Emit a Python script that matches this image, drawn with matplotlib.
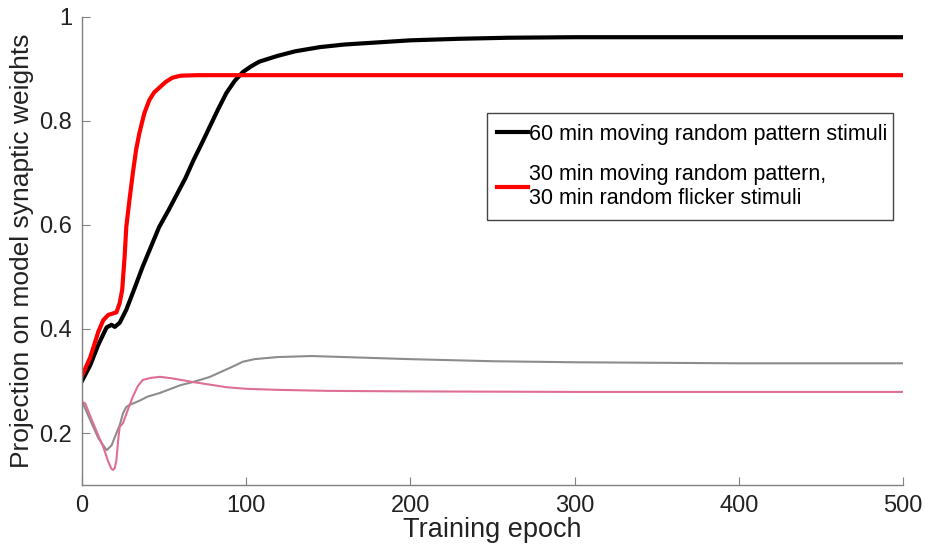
import matplotlib
matplotlib.use("Agg")
import matplotlib.pyplot as plt
from matplotlib.lines import Line2D

plt.rcParams['font.family'] = ['Liberation Sans', 'DejaVu Sans']

# 60 min moving random pattern (thick black)
x_black = [0, 5, 10, 15, 18, 20, 23, 27, 32, 37, 42, 47, 53, 58, 63, 68, 73, 78, 83, 88, 93, 98, 103, 108, 114, 119, 130, 145, 160, 180, 200, 230, 260, 300, 350, 400, 450, 500]
y_black = [0.300, 0.33, 0.37, 0.403, 0.408, 0.404, 0.412, 0.437, 0.478, 0.52, 0.558, 0.596, 0.63, 0.66, 0.69, 0.725, 0.757, 0.79, 0.823, 0.854, 0.877, 0.894, 0.905, 0.914, 0.92, 0.925, 0.934, 0.942, 0.947, 0.951, 0.955, 0.958, 0.96, 0.961, 0.961, 0.961, 0.961, 0.961]

# 30 min moving + 30 min flicker (thick red)
x_red = [0, 5, 10, 13, 16, 19, 21, 23, 24.5, 26, 27, 29, 31, 33, 35, 38, 41, 44, 47.5, 51, 55, 60, 70, 100, 200, 300, 400, 500]
y_red = [0.31, 0.345, 0.395, 0.417, 0.427, 0.43, 0.432, 0.45, 0.475, 0.54, 0.596, 0.65, 0.70, 0.745, 0.777, 0.815, 0.84, 0.855, 0.865, 0.875, 0.883, 0.887, 0.888, 0.888, 0.888, 0.888, 0.888, 0.888]

# thin grey curve
x_grey = [0, 1, 5, 10, 15, 18, 21, 23, 25, 27, 29, 35, 40, 47.5, 55, 60, 67.6, 72, 78, 85, 92, 98, 105, 119, 140, 160, 200, 250, 300, 350, 400, 450, 500]
y_grey = [0.26, 0.254, 0.225, 0.19, 0.167, 0.176, 0.2, 0.215, 0.238, 0.25, 0.254, 0.262, 0.27, 0.277, 0.286, 0.292, 0.298, 0.302, 0.308, 0.318, 0.328, 0.337, 0.342, 0.346, 0.348, 0.346, 0.342, 0.338, 0.336, 0.335, 0.334, 0.334, 0.334]

# thin pink curve
x_pink = [0, 2, 6, 10, 13, 16, 18, 19, 20, 21, 22, 23, 25, 28, 31, 34, 37, 42, 47.5, 55, 67.6, 80, 88, 100, 119, 150, 200, 300, 400, 500]
y_pink = [0.26, 0.257, 0.225, 0.195, 0.173, 0.145, 0.131, 0.129, 0.133, 0.148, 0.185, 0.212, 0.219, 0.245, 0.27, 0.29, 0.302, 0.306, 0.308, 0.305, 0.298, 0.292, 0.288, 0.285, 0.283, 0.281, 0.28, 0.279, 0.279, 0.279]

legend_labels = ["60 min moving random pattern stimuli",
                 "30 min moving random pattern,\n30 min random flicker stimuli"]

fig = plt.figure(figsize=(9.25, 5.46), dpi=100)
ax = fig.add_axes([0.0886, 0.1117, 0.8876, 0.8573])

ax.plot(x_grey, y_grey, color='#8c8c8c', lw=1.5)
ax.plot(x_pink, y_pink, color='#df6e96', lw=1.5)
ax.plot(x_black, y_black, color='black', lw=3)
ax.plot(x_red, y_red, color='#ff0000', lw=3)

ax.set_xlim(0, 500)
ax.set_ylim(0.1, 1)
ax.set_xticks([0, 100, 200, 300, 400, 500])
ax.set_yticks([0.2, 0.4, 0.6, 0.8, 1.0])
ax.set_yticklabels(['0.2', '0.4', '0.6', '0.8', '1'])

for s in ['top', 'right']:
    ax.spines[s].set_visible(False)
for s in ['left', 'bottom']:
    ax.spines[s].set_color('#808080')
    ax.spines[s].set_linewidth(1)
ax.tick_params(direction='in', length=6, color='#808080', labelsize=17, labelcolor='#222222', pad=7)

ax.set_xlabel("Training epoch", fontsize=19.5, color='#222222', labelpad=0)
ax.set_ylabel("Projection on model synaptic weights", fontsize=19, color='#222222', labelpad=4)

handles = [Line2D([], [], color='black', lw=3), Line2D([], [], color='#ff0000', lw=3)]
leg = ax.legend(handles, legend_labels, loc='lower left', bbox_to_anchor=(0.493, 0.566, 0.495, 0.24),
                mode='expand', fontsize=15.5, handlelength=1.4, handletextpad=0.05,
                borderaxespad=0, labelspacing=0.9, fancybox=False, framealpha=1, borderpad=0.5)
leg.get_frame().set_edgecolor('#444444')
leg.get_frame().set_linewidth(1)

fig.savefig("out.png", dpi=100)
